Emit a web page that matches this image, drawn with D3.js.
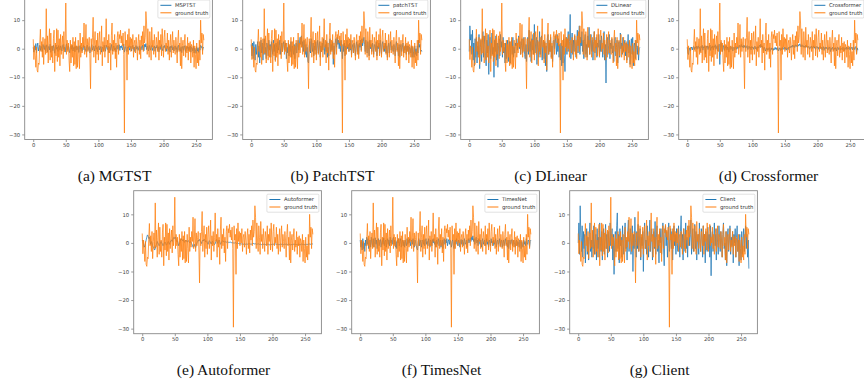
<!DOCTYPE html>
<html>
<head>
<meta charset="utf-8">
<script src="https://cdn.jsdelivr.net/npm/d3@7"></script>
<style>
  body { margin: 0; background: #fff; }
  svg { display: block; }
</style>
</head>
<body>
<svg id="chart" width="864" height="385"></svg>
<script>
// tick labels shared by every panel
const xTicks = [0, 50, 100, 150, 200, 250];
const yTicks = [10, 0, -10, -20, -30];

const captions = ['(a) MGTST', '(b) PatchTST', '(c) DLinear', '(d) Crossformer',
                  '(e) Autoformer', '(f) TimesNet', '(g) Client'];
const legendNames = ['MSPTST', 'patchTST', 'DLinear', 'Crossformer', 'Autoformer', 'TimesNet', 'Client'];

// same target series in every panel
const groundTruth = [
  3.3, -3.8, 1.0, -2.5, -6.5, 0.5, -7.5, -8.2, -5.0, -5.5,
  1.5, 6.8, -1.0, 2.5, -3.0, 4.0, -5.5, 0.5, 3.5, -2.0,
  14.0, -1.5, 4.5, -5.0, 2.0, 7.0, -4.0, 5.5, -3.0, 1.0,
  -5.0, 3.5, 6.5, -8.0, 2.0, -2.5, 7.0, -4.5, 6.5, -3.0,
  3.5, -6.0, 5.0, -2.0, 1.5, 4.5, -3.5, 6.0, -1.0, 2.0,
  16.0, -2.0, 3.0, -1.0, 2.0, -4.0, -8.0, 3.0, -5.0, 1.5,
  -3.0, 4.0, -6.0, 2.5, -5.5, 4.0, -7.0, 1.0, -6.5, 3.0,
  -2.0, -7.0, 5.5, -3.0, 2.0, -1.5, 4.0, 0.5, 9.0, -2.0,
  1.0, 8.5, -3.0, 3.5, -1.0, 2.0, 4.0, -2.5, -14.0, 3.5,
  -1.0, 4.0, 11.0, -3.0, 2.0, 6.0, -5.0, 3.0, -2.0, 5.5,
  -4.0, 3.0, 6.0, -2.0, 1.0, 8.0, -6.0, 2.5, -1.0, 4.0,
  -3.0, 2.0, 10.5, 0.5, 3.0, -5.0, 5.0, -1.5, 2.0, -7.5,
  4.5, 9.0, -2.0, 3.0, -1.0, 5.0, -3.5, 2.0, -6.5, 4.0,
  6.0, -2.0, 5.0, 3.5, 6.5, 2.0, 4.5, 1.0, 5.5, -2.0,
  -29.5, 6.0, 1.0, 3.0, -11.0, 5.0, -2.0, 7.0, 0.5, 4.0,
  -1.0, 3.5, 0.0, 5.0, -3.0, 2.0, 3.0, -1.5, 4.0, 1.0,
  -4.0, 2.5, 5.0, -2.0, 3.0, -3.5, 4.5, 1.0, 6.0, -1.0,
  8.0, 2.0, 4.0, 13.0, 9.0, -2.0, 7.0, 1.0, -3.0, 6.0,
  2.0, -4.0, 7.5, 0.5, 3.0, -2.0, 5.0, 1.0, -3.0, 4.0,
  2.0, -1.0, 6.0, -4.0, 3.0, 0.5, 5.0, -2.5, 7.0, 1.0,
  -3.0, 4.0, 6.5, -1.0, 2.0, 0.0, 5.5, -2.0, 3.0, -4.0,
  1.0, 5.0, -3.0, 2.0, 6.0, -1.5, 3.0, 0.5, -2.0, 4.0,
  1.0, -5.0, 3.0, 6.5, -1.0, 2.0, -6.0, 4.0, -7.0, 1.0,
  3.0, -2.5, 2.0, 5.0, -3.0, 1.0, -1.5, 4.0, -4.0, 2.0,
  -1.0, 2.5, -5.0, 1.5, 0.5, -3.0, 3.0, -6.5, 1.0, -2.0,
  -7.0, 2.0, -5.0, -1.0, -6.0, 3.0, -4.0, 10.0, 2.0, 5.5, -2.0, 5.0, 3.0
];

const mgtst = [
  0.5, -1.2, 1.0, -0.5, 1.8, -1.5, 0.8, 2.0, -0.8, 0.3,
  1.2, -0.6, 0.9, 0.2, -1.0, 1.5, 0.4, -0.3, 1.1, -0.9,
  0.6, 1.4, -1.1, 0.3, 0.8, -0.4, 1.6, -1.3, 0.5, 0.9,
  -0.7, 1.2, 0.1, -1.6, 0.7, 1.3, -0.2, 0.6, -1.0, 1.1,
  0.4, -0.5, 1.0, 0.2, -0.8, 0.9, 1.5, -0.3, 0.5, -1.2,
  0.8, 1.7, -0.4, 0.2, 1.0, -0.6, -1.4, 0.5, 0.9, -0.2,
  1.2, -0.8, 0.3, 0.7, -1.1, 0.6, 1.0, -0.5, 0.2, 0.8,
  -1.3, 0.4, 1.1, -0.2, 0.6, -0.9, 0.3, 1.2, -0.4, 0.9,
  0.1, -1.0, 0.7, 1.3, -0.6, 0.2, 0.8, -1.5, -0.3, 0.6,
  1.4, -0.5, 0.3, 0.9, -0.8, 0.4, 1.1, -0.2, 0.5, -1.1,
  0.7, 1.0, -0.4, 0.2, 0.8, -1.2, 0.6, 0.3, -0.7, 1.2,
  0.1, -0.9, 1.3, 0.5, -0.3, 0.9, -1.4, 0.4, 0.7, -0.6,
  1.5, 0.2, -0.8, 0.6, 1.0, -0.5, 0.3, -1.1, 0.8, 1.2,
  -0.2, 0.5, 1.4, -0.6, 0.9, 0.3, 1.1, -0.4, 0.7, 1.6,
  -1.2, 0.4, 0.8, -0.7, -1.0, 0.6, 0.2, 1.0, -0.5, 0.3,
  0.9, -0.8, 0.5, 1.2, -0.3, 0.6, -1.0, 0.4, 1.1, -0.2,
  0.7, -0.6, 0.3, 1.0, -0.9, 0.5, 0.8, -0.4, 1.3, 0.2,
  -0.7, 1.5, 0.6, 1.8, -0.3, 0.9, 0.4, -0.8, 1.2, 0.3,
  -0.5, 0.8, 1.1, -0.6, 0.4, 0.2, 1.0, -0.9, 0.6, 0.3,
  1.2, -0.4, 0.7, -1.1, 0.5, 0.9, -0.3, 1.4, 0.1, -0.7,
  0.8, 0.4, 1.2, -0.5, 0.3, -0.9, 1.0, 0.2, -0.6, 0.7,
  -1.2, 0.9, 0.3, 1.1, -0.4, 0.6, -0.8, 0.5, 1.0, -0.3,
  0.4, -1.3, 0.8, 1.2, -0.5, 0.2, -0.9, 0.7, -1.4, 0.3,
  0.9, -0.6, 0.5, 1.1, -1.0, 0.4, 0.1, 0.8, -0.7, 0.6,
  -0.3, 1.0, -1.2, 0.5, 0.2, -0.8, 0.9, -1.5, 0.3, -0.4,
  -1.6, 0.7, -0.9, 0.2, -1.3, 0.6, -0.5, 1.2, 0.4, 0.8, -0.6, 0.5, 0.3
];

const patchTst = [
  1.5, -2.5, 2.0, -3.5, 2.5, -1.0, -4.0, 1.5, -2.0, 0.5,
  2.5, -3.0, 1.0, -5.0, 0.5, 3.0, -1.5, 2.0, -4.0, 1.0,
  3.5, -2.0, 0.5, -3.5, 2.0, 1.0, -2.5, 3.0, -0.5, 1.5,
  -3.0, 2.5, 0.0, -2.0, 3.0, -1.0, 1.5, -4.0, 2.0, 0.5,
  -1.5, 2.5, -0.5, 1.0, 3.0, -2.0, 0.5, 2.0, -1.0, 1.5,
  2.5, -0.5, 1.0, 2.0, -3.5, 0.5, -1.5, 2.0, -2.5, 1.0,
  -1.0, 2.5, -3.0, 1.0, 0.0, -2.0, 1.5, -3.5, 0.5, 2.0,
  -1.5, 1.0, 3.0, -0.5, 2.0, 4.0, 1.5, 4.5, 0.5, 2.5,
  -1.0, 3.0, 0.5, -2.0, 1.5, -3.0, 0.5, -4.5, -5.0, 1.0,
  2.5, -1.5, 3.5, 0.5, -1.0, 2.0, -2.5, 1.0, -0.5, 2.5,
  -2.0, 1.0, 3.0, -1.5, 0.5, 2.5, -3.0, 1.0, -1.0, 2.0,
  -0.5, 3.5, 1.0, -2.0, 1.5, -1.0, 2.5, -3.0, 0.5, -2.5,
  2.0, 3.5, -1.0, 1.5, -0.5, 2.5, -5.5, 1.0, -2.0, 2.0,
  3.5, 0.5, 4.0, 1.5, 3.0, 0.0, 2.5, -1.0, 3.0, 0.5,
  -3.5, 1.5, -1.0, 2.0, -2.5, 1.0, -0.5, 3.0, 0.0, 1.5,
  -1.0, 2.0, -0.5, 3.0, -2.0, 0.5, 1.5, -1.5, 2.0, 0.0,
  -2.5, 1.0, 2.5, -1.0, 1.5, -2.0, 2.0, 0.5, 3.0, -0.5,
  3.5, 1.0, 2.5, 4.0, 1.5, -1.0, 3.0, 0.5, -1.5, 2.5,
  0.5, -2.5, 3.0, 0.0, 1.5, -1.0, 2.0, 0.5, -2.0, 1.5,
  1.0, -0.5, 2.5, -2.5, 1.0, 0.0, 2.0, -1.5, 3.0, 0.5,
  -2.0, 1.5, 2.5, -0.5, 1.0, -1.0, 2.0, -1.5, 1.0, -3.0,
  0.5, 2.0, -1.5, 1.0, 2.5, -0.5, 1.0, 0.0, -1.0, 1.5,
  0.5, -2.5, 1.0, 2.5, -0.5, 0.5, -2.5, 1.5, -3.0, 0.5,
  1.5, -1.0, 0.5, 2.0, -1.5, 0.5, -0.5, 1.5, -2.0, 1.0,
  -0.5, 1.0, -2.0, 0.5, 0.0, -1.5, 1.0, -3.0, 0.5, -1.0,
  -3.0, 1.0, -2.0, 0.0, -2.5, 1.0, -1.5, 3.0, 0.5, 1.5, -1.0, -0.5, -1.0
];

const dlinear = [
  -1.0, 8.0, 3.0, 5.0, -2.0, 6.5, -4.0, 2.0, -6.0, 3.5,
  -3.0, 4.0, -5.0, 1.0, -2.0, 5.0, -7.0, 0.5, 3.0, -4.5,
  2.0, 6.0, -3.0, 1.5, 4.5, -2.5, -6.0, 3.0, -1.5, 5.0,
  -9.0, 2.0, 4.0, -3.5, 1.0, 5.5, -2.0, 0.5, -10.0, 3.0,
  -1.0, 4.5, -4.0, 2.0, -6.5, 1.0, 3.5, -2.5, 5.0, 0.5,
  2.5, -3.0, 4.0, -1.5, 0.5, -5.0, 2.0, -3.5, 1.0, 3.0,
  -4.5, 0.5, 2.5, -5.0, 1.0, 3.0, -2.0, 4.0, -3.0, 0.5,
  -1.5, 2.0, 1.0, 3.5, -0.5, 2.0, 4.5, 0.0, 2.5, -2.0,
  1.0, 3.5, -1.5, 0.5, 4.0, -2.0, -3.5, 1.5, -4.5, 2.5,
  4.0, -2.0, 6.5, -1.0, 2.5, -4.5, 3.5, -0.5, 5.0, -2.0,
  8.5, -1.5, 2.0, 4.0, -5.5, 3.0, 0.5, -3.0, 6.0, -2.0,
  2.0, 4.5, -4.0, 1.5, 3.0, -3.5, 2.5, -6.0, 1.0, -8.0,
  3.5, 5.0, -2.0, 2.0, -1.0, 4.0, -3.0, 1.0, -4.5, 2.5,
  3.0, 0.0, 4.5, 2.0, -2.0, 5.0, -1.0, 3.5, -3.0, 1.5,
  -4.0, 2.0, -6.0, 1.0, -5.0, 3.5, -2.5, -8.0, 0.5, 4.0,
  -2.0, 3.0, 6.0, -1.0, 2.5, 12.0, -3.5, 1.0, 5.5, -2.0,
  3.0, -1.0, 4.5, 0.5, -3.0, 2.0, 6.5, -1.5, 3.5, 8.0,
  -2.0, 4.0, 1.0, 6.0, -1.0, 3.0, -3.5, 2.5, 5.0, -2.0,
  1.5, -3.0, 4.5, 0.5, 7.5, -2.0, 2.0, 5.0, -1.0, 3.0,
  -4.0, 2.5, 6.0, -1.5, 1.0, 4.0, -3.0, 2.0, 0.5, 5.0,
  -2.5, 3.0, -1.0, 4.5, 1.0, -3.0, 2.0, 6.0, -4.0, 1.5,
  -12.0, 2.5, 4.0, -2.0, 1.0, 5.0, -3.5, 2.0, 0.0, 3.5,
  -1.5, 1.0, -4.5, 2.0, 4.0, -2.5, 0.5, 3.0, -5.0, 1.5,
  2.5, -3.0, 5.5, 0.0, 2.0, -2.0, 4.0, -1.0, 1.5, 3.0,
  -2.5, 2.0, -4.0, 1.0, 5.0, -1.5, 2.5, -5.5, 1.0, 3.5,
  -2.0, 4.0, -6.0, 1.0, 2.0, -3.5, 3.0, 0.5, -2.0, 1.0, -4.0, 0.0, 0.5
];

const crossformer = [
  0.5, -1.5, -2.0, -0.5, 0.3, -0.8, 0.2, 0.6, -0.4, 0.5,
  0.8, -0.3, 0.6, 0.2, 0.9, -0.2, 0.7, 1.0, 0.1, 0.6,
  -1.0, 0.8, 0.4, 1.2, -0.5, 0.7, 0.3, 1.1, -1.8, 0.9,
  0.4, 1.0, -0.3, 0.8, 0.5, 1.3, -0.6, 0.7, 0.2, 1.0,
  -0.4, 0.9, 0.5, 1.4, -0.2, 0.6, 1.1, -0.8, 0.4, 1.6,
  -5.5, 1.0, 2.2, 0.3, -1.0, 1.2, 0.4, -0.6, 0.8, 0.2,
  1.1, -0.5, 0.6, 0.3, -1.2, 0.5, 0.9, -0.3, 0.4, 0.7,
  -0.8, 0.2, 0.6, -0.4, 0.3, 0.8, -0.2, 0.5, 0.1, 0.7,
  1.2, 0.4, 0.8, 1.5, 0.6, 1.0, 0.3, 1.3, 0.5, 0.9,
  0.2, 0.7, 1.1, -0.3, 0.5, 0.9, 0.1, 0.6, -0.4, 0.8,
  0.3, 0.6, -0.2, 0.4, 0.9, 0.0, 0.5, -0.5, 0.7, 0.2,
  0.8, 1.2, 0.4, 1.6, 0.6, 1.0, 0.2, -0.6, 0.5, 0.3,
  -0.8, -0.2, 0.3, -0.5, 0.1, -0.3, 0.4, -1.0, -0.2, 0.3,
  -0.4, 0.2, -0.6, 0.1, -0.3, 0.5, -0.2, 0.3, -0.5, 0.4,
  -0.8, -0.1, 0.3, -0.6, 0.2, -0.4, 0.5, -0.3, 0.2, 0.6,
  -0.2, 0.4, -0.5, 0.3, 0.1, -0.3, 0.6, 0.2, 0.8, 0.4,
  1.0, 0.5, 1.3, 0.7, 1.1, 0.4, 1.4, 0.8, 1.2, 0.6,
  1.5, 0.9, 1.3, 1.7, 1.0, 0.6, 1.4, 0.8, 1.1, 0.5,
  0.9, 0.4, 1.2, 0.6, 1.0, 0.3, 0.8, 0.5, -0.2, 0.7,
  0.4, 0.9, 0.1, 0.6, 1.0, 0.2, 0.7, -0.3, 0.5, 0.8,
  0.2, 0.6, -0.2, 0.4, 0.8, 0.1, 0.5, -0.4, 0.3, 0.7,
  -0.6, 0.3, 0.6, -0.1, 0.5, 0.2, -0.5, 0.4, 0.1, 0.6,
  -1.0, 0.2, -0.3, 0.5, 0.0, -0.6, 0.3, -0.2, 0.4, -0.8,
  0.2, 0.5, -0.3, 0.4, 0.1, -0.5, 0.3, 0.0, -0.4, 0.5,
  0.1, -0.7, 0.4, 0.2, -0.3, 0.6, -0.2, 0.3, 0.0, 0.5,
  -0.5, 0.3, 0.1, 0.6, -0.4, 0.2, 0.5, -0.3, 0.4, 0.8, -1.8, 0.3, -0.5
];

const autoformer = [
  1.0, 0.5, -0.5, -1.5, -1.0, 0.0, 1.0, 2.0, 2.8, 2.5,
  1.5, 2.0, 0.5, -0.5, 0.5, 0.0, -1.0, -1.5, -2.0, -2.5,
  -2.0, -1.0, -0.5, 0.5, 0.0, -0.5, -1.0, -0.5, 0.0, 0.5,
  0.0, -0.5, -1.0, -0.5, 0.0, 0.3, -0.2, -0.8, -0.5, 0.2,
  0.5, 0.0, -0.5, 0.3, 0.8, 1.0, 0.5, 1.2, 1.8, 2.0,
  1.5, 2.0, 1.0, 0.5, 0.8, 0.0, -1.0, -0.5, 0.5, 1.0,
  1.5, 1.0, 0.8, 1.2, 0.5, 0.2, 0.6, 1.0, 0.7, 0.3,
  0.5, 0.8, 0.4, 0.0, 0.5, 0.2, -0.3, -0.8, -1.5, -1.2,
  -0.5, -1.3, -1.6, -0.8, 0.0, 0.5, 1.0, 0.6, 1.2, 0.8,
  0.3, -0.2, 0.5, 1.0, 0.7, 1.3, 0.9, 0.4, 0.8, 0.5,
  0.0, -0.5, 0.2, 0.8, 0.5, 0.0, -0.4, 0.3, 0.6, 0.2,
  -0.2, -0.6, -0.3, 0.4, 1.2, 0.6, -0.2, 0.5, 1.0, 0.4,
  -0.5, -0.2, 0.4, 0.8, 0.5, 0.6, 0.3, 0.2, 0.4, 0.3,
  0.2, 0.4, 0.3, 0.1, 0.2, 0.3, 0.2, 0.1, 0.0, 0.1,
  0.0, -0.1, 0.0, 0.1, -0.1, -0.2, -0.1, 0.0, -0.2, -0.3,
  -0.2, -0.3, -0.4, -0.3, -0.4, -0.5, -0.4, -0.3, -0.4, -0.5,
  -0.4, -0.5, -0.4, -0.3, -0.4, -0.3, -0.4, -0.5, -0.4, -0.3,
  -0.3, -0.2, -0.3, -0.4, -0.3, -0.4, -0.5, -0.4, -0.3, -0.4,
  -0.5, -0.4, -0.5, -0.6, -0.5, -0.4, -0.5, -0.4, -0.5, -0.6,
  -0.5, -0.6, -0.5, -0.4, -0.5, -0.6, -0.7, -0.6, -0.5, -0.6,
  -0.5, -0.4, -0.5, -0.4, -0.3, -0.4, -0.5, -0.4, -0.5, -0.6,
  -0.5, -0.6, -0.5, -0.4, -0.5, -0.4, -0.5, -0.6, -0.5, -0.4,
  -0.5, -0.4, -0.5, -0.6, -0.5, -0.4, -0.5, -0.6, -0.7, -0.6,
  -0.5, -0.6, -0.5, -0.4, -0.5, -0.6, -0.5, -0.6, -0.7, -0.6,
  -0.5, -0.6, -0.5, -0.6, -0.5, -0.4, -0.5, -0.6, -0.5, -0.6,
  -0.7, -0.6, -0.5, -0.6, -0.5, -0.4, -0.5, -0.4, -0.5, -0.4, -0.3, -0.4, -0.3
];

const timesNet = [
  1.0, -1.5, 0.5, -2.5, 1.5, -2.0, 0.0, -3.0, 1.0, -1.0,
  2.0, -0.5, 1.5, -2.0, 0.5, 1.0, -1.5, 2.0, 0.0, -1.0,
  1.5, -1.5, 0.5, 1.8, -0.5, 1.0, -2.0, 0.5, 1.5, -1.0,
  0.5, 1.2, -1.5, 0.0, 1.0, -0.5, 1.8, -1.0, 0.5, 1.0,
  -1.5, 0.5, 1.5, -0.5, 1.0, -1.0, 2.0, 0.0, 1.0, -0.5,
  1.5, 2.0, -0.5, 1.0, -1.5, 0.5, -2.0, 1.0, 0.0, 1.5,
  -1.0, 0.5, 1.5, -1.5, 0.0, 1.0, -1.0, 0.5, -1.5, 1.0,
  0.0, -1.0, 1.5, -0.5, 1.0, 0.0, 1.5, -1.0, 0.5, 1.0,
  -0.5, 1.5, 0.0, -1.5, 1.0, 0.5, -1.0, -2.0, -2.5, 0.5,
  1.5, -1.0, 1.0, 0.0, -1.5, 1.0, 0.5, -0.5, 1.2, -1.0,
  0.5, 1.5, -0.5, 0.5, -1.0, 1.5, 0.0, -1.5, 1.0, 0.5,
  -1.0, 1.2, 0.0, 1.5, -0.5, 0.5, -1.5, 1.0, -0.5, 0.5,
  1.5, -1.0, 0.5, 1.0, -1.5, 0.0, 1.0, -2.0, 0.5, 1.5,
  -0.5, 1.0, 0.0, 1.5, -1.0, 0.5, 1.2, -0.5, 1.0, 0.0,
  -1.5, 0.5, 1.0, -1.0, -2.0, 0.5, 1.0, -0.5, 1.5, 0.0,
  -1.0, 1.0, 0.5, -1.5, 0.5, 1.2, -0.5, 1.0, -1.0, 0.5,
  1.5, -0.5, 0.0, 1.0, -1.5, 0.5, 1.5, 0.0, 1.0, 1.8,
  0.5, 2.0, 1.0, 2.5, 0.5, 1.5, -0.5, 1.0, 2.0, 0.0,
  1.0, -1.0, 1.5, 0.5, -0.5, 1.0, -1.5, 0.5, 1.5, -0.5,
  0.5, 1.0, -1.0, 0.0, 1.5, -0.5, 0.5, -1.5, 1.0, 0.5,
  -1.0, 1.5, 0.0, 0.5, -1.0, 1.0, -0.5, 0.5, 1.5, -1.5,
  0.5, 1.0, -0.5, 0.0, 1.5, -1.0, 0.5, 1.0, -1.5, 0.0,
  1.0, -1.0, 0.5, 1.5, -0.5, 0.0, -1.5, 1.0, -2.0, 0.5,
  1.0, -0.5, 0.5, 1.2, -1.0, 0.0, 1.0, -0.5, -1.5, 0.5,
  1.0, -1.0, 0.5, 0.0, -1.5, 1.0, 0.5, -2.0, 0.5, -0.5,
  -1.5, 1.0, -0.5, 0.5, -1.0, 1.5, 0.0, -0.5, 1.0, 0.5, -1.5, 0.5, 1.0
];

const client = [
  0.0, 7.0, -4.0, 13.0, 2.0, -3.0, 6.0, -5.0, 4.0, -2.0,
  3.0, -7.0, 1.0, 5.0, -4.0, 2.0, -6.0, 3.0, 7.0, -3.0,
  1.0, -5.0, 4.0, -2.0, 6.0, -4.0, 1.0, 3.0, -6.0, 5.0,
  -2.0, 2.0, -5.0, 7.0, 0.0, -3.0, 4.0, -6.0, 2.0, 5.0,
  -4.0, 1.0, 6.5, -2.0, 3.0, -5.0, 4.0, 0.0, -3.0, 7.0,
  -1.0, 2.0, 5.0, -6.0, 3.0, -11.0, 1.0, 4.0, -3.0, 6.0,
  10.5, -2.0, 3.0, -7.0, 5.0, -1.0, 2.0, -5.0, 6.0, 0.0,
  -4.0, 3.0, 7.0, -2.0, 1.0, -6.0, 4.0, 8.0, -3.0, 2.0,
  5.0, -4.0, 1.0, 6.0, -10.0, 3.0, -2.0, 9.0, 0.0, -5.0,
  4.0, -2.0, 6.5, -3.0, 1.0, 5.0, -6.0, 2.0, -1.0, 4.0,
  -10.0, 3.0, 7.0, -2.0, 1.0, -4.0, 6.0, 0.0, -5.0, 3.0,
  8.0, -3.0, 2.0, 5.0, -6.0, 1.0, 4.0, -2.0, 7.5, -4.0,
  2.0, 6.0, -3.0, 1.0, -7.0, 4.0, 0.0, 5.0, -4.0, 2.0,
  7.0, -2.0, -8.0, 3.0, 6.0, -1.0, 4.0, -5.0, 2.0, 7.0,
  -3.0, 1.0, 5.0, -2.0, 4.0, -6.0, 2.0, 6.0, -1.0, 3.0,
  -4.0, 5.0, 0.0, -3.0, 6.0, 1.0, -5.0, 4.0, 9.5, -2.0,
  3.0, -6.0, 5.0, 1.0, -3.0, 7.0, -2.0, 2.0, -5.0, 4.0,
  6.0, -1.0, 3.0, 8.0, -4.0, 2.0, 5.0, -3.0, 1.0, 6.5,
  -2.0, 4.0, -6.0, 1.0, 3.0, -4.0, 7.0, 0.0, -3.0, 5.0,
  2.0, -5.0, 6.0, -1.0, 3.0, -7.0, 4.0, 1.0, -3.0, 5.5,
  -2.0, 3.0, -5.0, 6.0, -11.5, 2.0, 4.0, -3.0, 1.0, 7.0,
  -1.0, 3.0, -6.0, 5.0, 0.0, -4.0, 6.0, 2.0, -3.0, 4.0,
  1.0, -5.0, 3.0, 7.0, -2.0, 0.0, -6.0, 4.0, -8.0, 2.0,
  5.0, -3.0, 1.0, 6.0, -4.0, 2.0, -1.0, 4.0, -7.0, 3.0,
  0.0, 5.0, -5.0, 2.0, 6.0, -3.0, 1.0, -8.0, 3.0, -2.0,
  -6.0, 4.0, -4.0, 1.0, 5.0, -3.0, 2.0, 6.0, -2.0, 3.0, -5.0, 1.0, -9.0
];

const predictions = [mgtst, patchTst, dlinear, crossformer, autoformer, timesNet, client];

const svg = d3.select('#chart');
const W = 187.7, H = 143;
const BLUE = '#1f77b4', ORANGE = '#ff7f0e';
const tickFont = 'DejaVu Sans, sans-serif';

// 4 panels on top, 3 on the bottom
function panelPos(i) {
  if (i < 4) return { left: 24.7 + 218 * i, top: -3.5 };
  return { left: 133.7 + 218 * (i - 4), top: 190.7 };
}

predictions.forEach((pred, i) => {
  const p = panelPos(i);
  const n = groundTruth.length;
  const x = d3.scaleLinear()
    .domain([-(n - 1) * 0.05, (n - 1) * 1.05])
    .range([p.left, p.left + W]);
  const [lo, hi] = d3.extent(groundTruth.concat(pred));
  const pad = (hi - lo) * 0.05;
  const y = d3.scaleLinear()
    .domain([lo - pad, hi + pad])
    .range([p.top + H, p.top]);

  const g = svg.append('g');

  g.append('clipPath').attr('id', 'clip' + i)
    .append('rect')
    .attr('x', p.left).attr('y', p.top)
    .attr('width', W).attr('height', H);

  const line = d3.line()
    .x((d, k) => x(k))
    .y(d => y(d));

  const plot = g.append('g').attr('clip-path', `url(#clip${i})`);
  plot.append('path')
    .datum(pred)
    .attr('fill', 'none')
    .attr('stroke', BLUE)
    .attr('stroke-width', 0.75)
    .attr('d', line);
  plot.append('path')
    .datum(groundTruth)
    .attr('fill', 'none')
    .attr('stroke', ORANGE)
    .attr('stroke-width', 0.75)
    .attr('d', line);

  // axes
  const xAxis = g.append('g')
    .attr('transform', `translate(0,${p.top + H})`)
    .call(d3.axisBottom(x).tickValues(xTicks).tickSize(2.5).tickSizeOuter(0).tickPadding(1.5));
  const yAxis = g.append('g')
    .attr('transform', `translate(${p.left},0)`)
    .call(d3.axisLeft(y).tickValues(yTicks).tickSize(2.5).tickSizeOuter(0).tickPadding(2));

  [xAxis, yAxis].forEach(a => {
    a.select('.domain').remove();
    a.selectAll('line').attr('stroke', '#555').attr('stroke-width', 0.6);
    a.selectAll('text')
      .attr('fill', '#444')
      .style('font-family', tickFont)
      .style('font-size', '5.3px');
  });

  // spines
  g.append('rect')
    .attr('x', p.left).attr('y', p.top)
    .attr('width', W).attr('height', H)
    .attr('fill', 'none')
    .attr('stroke', '#888')
    .attr('stroke-width', 0.9);

  // legend, upper right
  const lw = 52, lh = 18;
  const lx = p.left + W - 2.5 - lw, ly = p.top + 3.5;
  const leg = g.append('g').attr('transform', `translate(${lx},${ly})`);
  leg.append('rect')
    .attr('width', lw).attr('height', lh)
    .attr('rx', 1)
    .attr('fill', '#fff').attr('fill-opacity', 0.8)
    .attr('stroke', '#ccc').attr('stroke-width', 0.6);
  [[legendNames[i], BLUE], ['ground truth', ORANGE]].forEach(([label, color], k) => {
    const cy = 5.3 + k * 7.5;
    leg.append('line')
      .attr('x1', 2.5).attr('x2', 13.5)
      .attr('y1', cy).attr('y2', cy)
      .attr('stroke', color).attr('stroke-width', 1);
    leg.append('text')
      .attr('x', 17).attr('y', cy)
      .attr('dy', '0.35em')
      .attr('fill', '#333')
      .style('font-family', tickFont)
      .style('font-size', '5.3px')
      .text(label);
  });

  // caption under the panel
  svg.append('text')
    .attr('x', p.left + W / 2 - 4)
    .attr('y', p.top + H + 41)
    .attr('text-anchor', 'middle')
    .attr('fill', '#111')
    .style('font-family', 'Liberation Serif, Times New Roman, serif')
    .style('font-size', '15.5px')
    .text(captions[i]);
});
</script>
</body>
</html>
